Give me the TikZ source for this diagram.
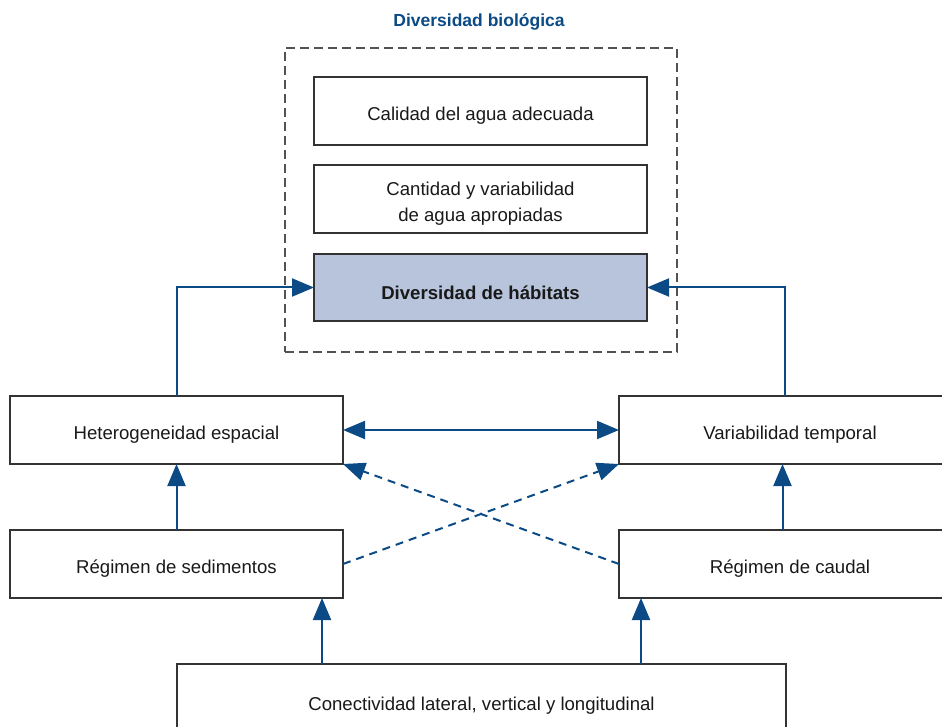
\documentclass[tikz,border=0pt]{standalone}
\usepackage{fontspec}
\setmainfont{Liberation Sans}
\usetikzlibrary{arrows.meta,calc}
\definecolor{blu}{HTML}{0B4A85}
\definecolor{hab}{HTML}{B8C4DC}
\definecolor{bord}{HTML}{333333}
\begin{document}
\begin{tikzpicture}[x=1pt,y=-1pt,
  box/.style={draw=bord,line width=1.2pt,minimum width=333pt,minimum height=68pt,inner sep=0pt,outer sep=0pt,
    label={[font=\fontsize{18.6}{26}\selectfont,text=black!90,align=center,yshift=-5pt]center:{#1}}},
  frame/.style={draw=bord!85,line width=1.2pt,dash pattern=on 9pt off 5pt,minimum width=392pt,minimum height=304pt,inner sep=0pt,outer sep=0pt},
  tip/.tip={Triangle[length=22pt,width=18pt]},
  conn/.style={draw=blu,line width=2pt,-tip},
  dconn/.style={conn,dash pattern=on 8pt off 6pt}]
\useasboundingbox (0,0) rectangle (942,727);
\clip (0,0) rectangle (942,727);
\node[font=\fontsize{17.5}{21}\selectfont\bfseries,text=blu] (T) at (479,22) {Diversidad biológica};
\node[frame] (F) at (481,200) {};
\node[box={Calidad del agua adecuada}] (Cal) at (480.5,111) {};
\node[box={Cantidad y variabilidad\\de agua apropiadas}] (Can) at (480.5,199) {};
\node[box={\bfseries Diversidad de hábitats},fill=hab,minimum height=67pt] (Hab) at (480.5,287.5) {};
\node[box={Heterogeneidad espacial}] (Het) at (176.5,430) {};
\node[box={Variabilidad temporal},minimum width=342pt] (Var) at (790,430) {};
\node[box={Régimen de sedimentos}] (Sed) at (176.5,564) {};
\node[box={Régimen de caudal},minimum width=342pt] (Cau) at (790,564) {};
\node[box={Conectividad lateral, vertical y longitudinal},minimum width=609pt,minimum height=74pt] (Con) at (481.5,701) {};
\coordinate (xr) at (785,0);
\coordinate (xc) at (782.5,0);
\coordinate (x1) at (322,0);
\coordinate (x2) at (641,0);
\draw[conn] (Het.north) |- (Hab.west);
\draw[conn] (Var.north -| xr) |- (Hab.east);
\draw[conn,tip-tip] (Het.east) -- (Var.west);
\draw[conn] (Sed.north) -- (Het.south);
\draw[conn] (Cau.north -| xc) -- (Var.south -| xc);
\draw[dconn] (Sed.east) -- (Var.south west);
\draw[dconn] (Cau.west) -- (Het.south east);
\draw[conn] (Con.north -| x1) -- (Sed.south -| x1);
\draw[conn] (Con.north -| x2) -- (Cau.south -| x2);
\end{tikzpicture}
\end{document}
